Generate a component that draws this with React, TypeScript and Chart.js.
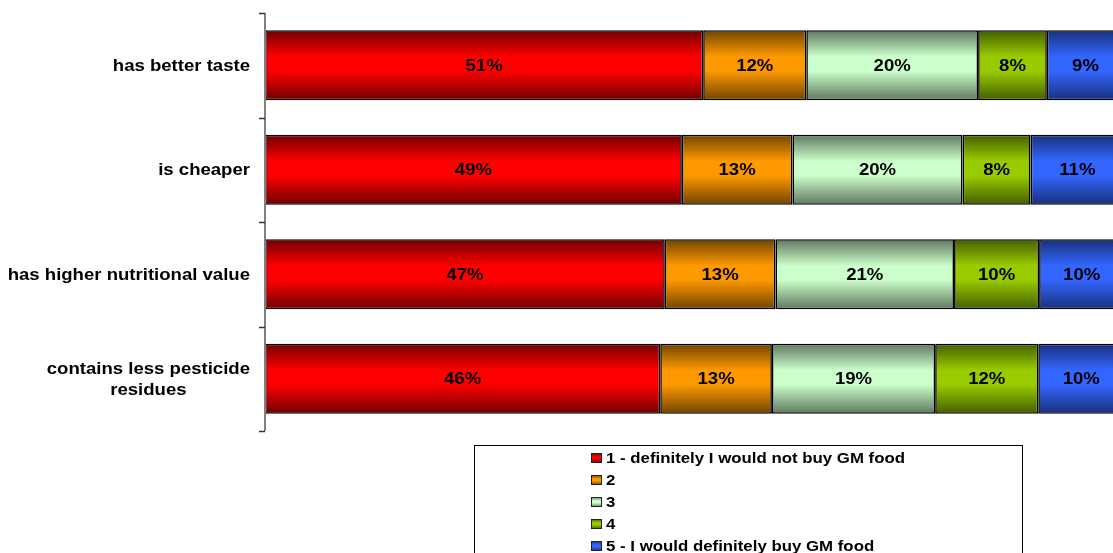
import React, { useEffect, useRef } from "react";
import { Chart, registerables } from "chart.js";

Chart.register(...registerables);

const categories: (string | string[])[] = [
  "has better taste",
  "is cheaper",
  "has higher nutritional value",
  ["contains less pesticide", "residues"],
];
const seriesNames = [
  "1 - definitely I would not buy GM food",
  "2",
  "3",
  "4",
  "5 - I would definitely buy GM food",
];
const s1 = [51, 49, 47, 46];
const s2 = [12, 13, 13, 13];
const s3 = [20, 20, 21, 19];
const s4 = [8, 8, 10, 12];
const s5 = [9, 11, 10, 10];
const series = [s1, s2, s3, s4, s5];

const midColors = ["#FF0000", "#FF9900", "#CCFFCC", "#99CC00", "#3366FF"];
const edgeColors = ["#700000", "#704400", "#5F775F", "#445E00", "#18307A"];

const FONT = '"Liberation Sans", Arial, sans-serif';
const SX = 1.16;
const BAR_PCT = 0.67;

function grad(ctx: CanvasRenderingContext2D, top: number, bottom: number, i: number) {
  const g = ctx.createLinearGradient(0, top, 0, bottom);
  g.addColorStop(0, edgeColors[i]);
  g.addColorStop(0.38, midColors[i]);
  g.addColorStop(0.58, midColors[i]);
  g.addColorStop(1, edgeColors[i]);
  return g;
}

function drawText(ctx: CanvasRenderingContext2D, text: string, x: number, y: number, align: CanvasTextAlign) {
  ctx.save();
  ctx.translate(x, y);
  ctx.scale(SX, 1);
  ctx.textAlign = align;
  ctx.fillText(text, 0, 0);
  ctx.restore();
}

const customPlugin = {
  id: "customDraw",
  afterDatasetsDraw(chart: any) {
    const ctx: CanvasRenderingContext2D = chart.ctx;
    const ys = chart.scales.y;
    const area = chart.chartArea;
    ctx.save();
    // data labels
    ctx.fillStyle = "#000";
    ctx.font = `bold 16px ${FONT}`;
    ctx.textBaseline = "middle";
    series.forEach((vals, d) => {
      const meta = chart.getDatasetMeta(d);
      meta.data.forEach((el: any, i: number) => {
        const p = el.getProps(["x", "y", "base"], true);
        drawText(ctx, `${vals[i]}%`, (p.x + p.base) / 2, p.y + 1, "center");
      });
    });

    // y axis line & ticks
    const left = area.left;
    const step = ys.getPixelForValue(1) - ys.getPixelForValue(0);
    const top = ys.getPixelForValue(0) - step / 2;
    const bottom = ys.getPixelForValue(categories.length - 1) + step / 2;
    ctx.strokeStyle = "#808080";
    ctx.lineWidth = 2;
    ctx.beginPath();
    ctx.moveTo(left, top);
    ctx.lineTo(left, bottom);
    ctx.stroke();
    ctx.strokeStyle = "#333";
    ctx.lineWidth = 1.5;
    for (let k = 0; k <= categories.length; k++) {
      const ty = Math.round(top + k * step) + 0.5;
      ctx.beginPath();
      ctx.moveTo(left - 6, ty);
      ctx.lineTo(left, ty);
      ctx.stroke();
    }

    // category labels
    ctx.fillStyle = "#000";
    ctx.font = `bold 16px ${FONT}`;
    ctx.textBaseline = "middle";
    const rightX = left - 15;
    categories.forEach((c, i) => {
      const cy = ys.getPixelForValue(i);
      if (Array.isArray(c)) {
        const w = Math.max(...c.map((t) => ctx.measureText(t).width)) * SX;
        const cx = rightX - w / 2;
        const lh = 21;
        c.forEach((t, j) => {
          drawText(ctx, t, cx, cy + (j - (c.length - 1) / 2) * lh + 1, "center");
        });
      } else {
        drawText(ctx, c, rightX, cy + 1, "right");
      }
    });

    // legend box
    const lx = 474.5, ly = 445.5, lw = 548, lh2 = 130;
    ctx.fillStyle = "#fff";
    ctx.fillRect(lx, ly, lw, lh2);
    ctx.strokeStyle = "#000";
    ctx.lineWidth = 1;
    ctx.strokeRect(lx, ly, lw, lh2);
    ctx.font = `bold 14.5px ${FONT}`;
    seriesNames.forEach((name, i) => {
      const ry = 458 + i * 22;
      ctx.fillStyle = grad(ctx, ry - 5, ry + 5, i);
      ctx.fillRect(591.5, ry - 4.5, 10, 9);
      ctx.strokeStyle = "#222";
      ctx.lineWidth = 1;
      ctx.strokeRect(591.5, ry - 4.5, 10, 9);
      ctx.fillStyle = "#000";
      drawText(ctx, name, 606, ry + 1, "left");
    });
    ctx.restore();
  },
};

export default function App() {
  const ref = useRef<HTMLCanvasElement>(null);
  useEffect(() => {
    if (!ref.current) return;
    const datasets = series.map((vals, d) => ({
      label: seriesNames[d],
      data: vals.map((v, i) => {
        const sum = series.reduce((a, s) => a + s[i], 0);
        return (v / sum) * 100;
      }),
      backgroundColor: (c: any) => {
        const chart = c.chart;
        const ys = chart.scales && chart.scales.y;
        if (!chart.chartArea || !ys || c.dataIndex === undefined) return midColors[d];
        const cy = ys.getPixelForValue(c.dataIndex);
        const half = (Math.abs(ys.getPixelForValue(1) - ys.getPixelForValue(0)) * BAR_PCT) / 2;
        return grad(chart.ctx, cy - half, cy + half, d);
      },
      borderColor: "#000",
      borderWidth: 1.6,
      borderSkipped: false,
      barPercentage: BAR_PCT,
      categoryPercentage: 1,
    }));
    const chart = new Chart(ref.current, {
      type: "bar",
      data: { labels: categories.map((c) => (Array.isArray(c) ? c.join(" ") : c)), datasets },
      options: {
        indexAxis: "y",
        animation: false,
        responsive: false,
        devicePixelRatio: 1,
        layout: { padding: { left: 265, top: 13, bottom: 122, right: 0 } },
        scales: {
          x: { stacked: true, min: 0, max: 98.7, display: false },
          y: { stacked: true, display: false },
        },
        plugins: { legend: { display: false }, tooltip: { enabled: false } },
      },
      plugins: [customPlugin],
    } as any);
    return () => chart.destroy();
  }, []);
  return (
    <div style={{ position: "absolute", left: 0, top: 0, width: 1113, height: 553, background: "#fff" }}>
      <canvas ref={ref} width={1113} height={553} style={{ display: "block" }} />
    </div>
  );
}
